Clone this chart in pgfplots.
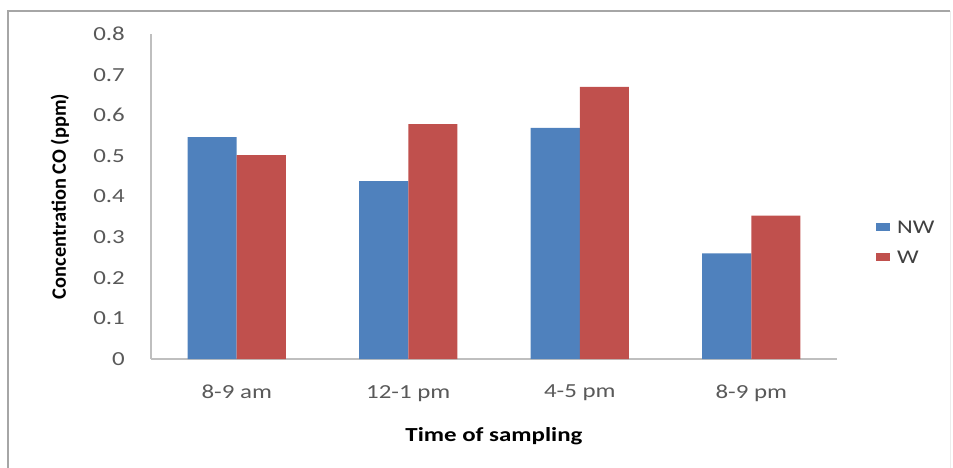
\documentclass[border=0pt]{standalone}
\usepackage{fontspec}
\setmainfont{Carlito}[FakeStretch=1.25]
\newfontfamily\ylabfont{Carlito}
\usepackage{pgfplots}
\pgfplotsset{compat=1.18}
\definecolor{nwblue}{HTML}{4F81BD}
\definecolor{wred}{HTML}{C0504D}
\definecolor{axgray}{HTML}{BFBFBF}
\definecolor{tickgray}{HTML}{595959}
\begin{document}
\begin{tikzpicture}
\begin{axis}[
  name=ax,
  scale only axis,
  width=686bp, height=325bp,
  ybar=0pt,
  bar width=0.286,
  xmin=-0.5, xmax=3.5,
  ymin=0, ymax=0.8,
  ytick={0,0.1,0.2,0.3,0.4,0.5,0.6,0.7,0.8},
  xtick=data,
  xticklabels={8-9 am,12-1 pm,4-5 pm,8-9 pm},
  axis lines*=left,
  axis line style={axgray, line width=1.2bp},
  x axis line style={-},
  y axis line style={-},
  major tick length=0pt,
  /pgf/number format/assume math mode=true,
  /pgf/number format/.cd, fixed, precision=1,
  /pgfplots/.cd,
  yticklabel style={font=\fontsize{20}{24}\selectfont, text=tickgray, inner sep=0pt, anchor=east, xshift=-26bp},
  xticklabel style={font=\fontsize{20}{24}\selectfont, text=tickgray, inner sep=0pt, anchor=north, yshift=-26bp},
  xlabel={Time of sampling},
  ylabel={Concentration CO (ppm)},
  xlabel style={font=\bfseries\fontsize{20}{24}\selectfont, at={(axis description cs:0.5,0)}, anchor=north, inner sep=0pt, yshift=-68bp},
  ylabel style={font=\ylabfont\bfseries\fontsize{20.5}{24}\selectfont, at={(axis description cs:0,0.5)}, anchor=center, inner sep=0pt, yshift=91bp},
  legend style={draw=none, fill=none, at={(axis description cs:1,0.36)}, anchor=west, xshift=39bp, inner sep=0pt, row sep=18bp, font=\fontsize{19.5}{22}\selectfont, text=black!75, cells={anchor=west}, nodes={inner sep=0pt, text depth=0pt}},
  legend image code/.code={\fill[#1, draw=none] (0bp,-4bp) rectangle (14bp,4bp);},
  legend cell align=left,
]
\addplot[fill=nwblue, draw=none] coordinates {(0,0.546) (1,0.438) (2,0.569) (3,0.260)};
\addplot[fill=wred, draw=none] coordinates {(0,0.502) (1,0.578) (2,0.670) (3,0.353)};
\addlegendentry{\hspace{7bp}NW}
\addlegendentry{\hspace{7bp}W}
\end{axis}
\path[use as bounding box] ([shift={(-151bp,-109bp)}]ax.south west) rectangle ([shift={(802bp,359bp)}]ax.south west);
\draw[gray!70, line width=1.5bp] ([shift={(-143bp,-110bp)}]ax.south west) -- ([shift={(-143bp,348bp)}]ax.south west) -- ([shift={(799bp,348bp)}]ax.south west);
\draw[gray!15, line width=1bp] ([shift={(799bp,348bp)}]ax.south west) -- ([shift={(799bp,-110bp)}]ax.south west);
\end{tikzpicture}
\end{document}
